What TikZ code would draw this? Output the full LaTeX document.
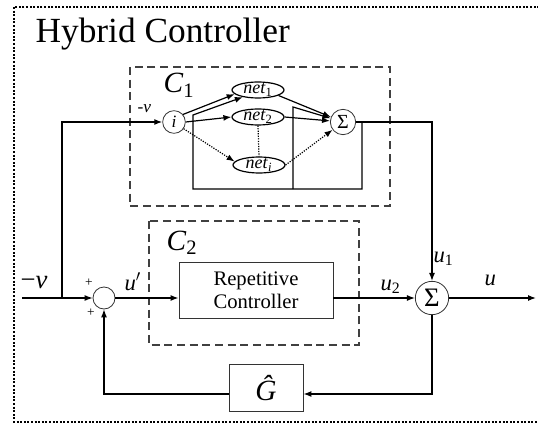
\documentclass[tikz,border=0pt]{standalone}
\usepackage{fontspec}
\setmainfont{Liberation Serif}
\usetikzlibrary{arrows.meta,shapes.geometric}

\begin{document}
\begin{tikzpicture}[x=0.75pt,y=-0.75pt,
    line width=0.9pt,
    >={Latex[length=6pt,width=4.5pt]},
    sumnode/.style={draw=black!80,circle,inner sep=0pt,line width=0.6pt},
    netnode/.style={draw,ellipse,inner sep=0pt,minimum width=39pt,minimum height=12pt,
        text height=6.5pt,text depth=1pt,font=\fontsize{13.5}{13.5}\selectfont},
    blockbox/.style={draw=black!80,rectangle,line width=0.7pt,align=center},
    groupbox/.style={draw=black!75,line width=0.9pt,dash pattern=on 6pt off 3.5pt},
    sig/.style={anchor=base west,inner sep=0pt,font=\fontsize{17}{17}\selectfont}]

    % Frame
    \useasboundingbox (0,0) rectangle (538,424);
    \clip (0,0) rectangle (538,424);
    \draw[line width=1.5pt,dash pattern=on 1.5pt off 1.2pt] (14,7) rectangle (560,422);
    \node[anchor=base west,inner sep=0pt,font=\fontsize{26.5}{30}\selectfont] (title) at (35,43) {Hybrid Controller};

    % C1 (neural part)
    \draw[groupbox] (130,67) rectangle (390,206);
    \node[anchor=base west,inner sep=0pt,font=\fontsize{22}{22}\selectfont] (c1) at (163,93) {\textit{C}\textsubscript{1}};
    \node[sumnode,minimum size=17pt,font=\fontsize{13}{13}\itshape] (in) at (174,122) {i};
    \node[netnode] (net1) at (258,90) {\textit{net}\textsubscript{1}};
    \node[netnode] (net2) at (258,117) {\textit{net}\textsubscript{2}};
    \node[netnode] (neti) at (259,165) {\textit{net}\textsubscript{\itshape i}};
    \node[sumnode,minimum size=19pt,font=\fontsize{15}{15}\selectfont] (sumA) at (343,122) {Σ};
    \node[anchor=base west,inner sep=0pt,font=\fontsize{13}{13}\selectfont] (vsmall) at (137,113) {-\textit{v}};

    \draw[->] (in.40) -- (net1.190);
    \draw[->] (in.east) -- (net2.west);
    \draw[->,densely dotted] (in.-35) -- (neti.172);
    \draw[densely dotted] (net2.south) -- (neti.north);
    \draw[->] (net1.-15) -- (sumA);
    \draw[->] (net2.east) -- (sumA);
    \draw[->,densely dotted] (neti.east) -- (sumA);
    \draw[->] (362,122) -- (362,189) -- (193,189) -- (193,115) -- (net1.205);
    \draw[->] (293,189) -- (293,107) -- (sumA);

    % Input and summing junction
    \coordinate (src) at (22,298);
    \coordinate (split) at (62,298);
    \node[sumnode,minimum size=16.5pt] (junc) at (104,298) {};
    \node[anchor=base west,inner sep=0pt,font=\fontsize{20}{20}\selectfont] (vbig) at (20,288) {−\textit{v}};
    \node[font=\fontsize{10}{10}\selectfont] (plusA) at (89,283) {+};
    \node[font=\fontsize{10}{10}\selectfont] (plusB) at (91,313) {+};
    \draw[->] (src) -- (junc);
    \draw[->] (split) -- (split |- in) -- (in);

    % C2 (repetitive part)
    \draw[groupbox] (149,221) rectangle (359,345);
    \node[anchor=base west,inner sep=0pt,font=\fontsize{22}{22}\selectfont] (c2) at (166,250) {\textit{C}\textsubscript{2}};
    \node[blockbox,minimum width=115.5pt,minimum height=42pt,
        font=\fontsize{15.5}{17}\selectfont] (rep) at (256,290) {Repetitive\\Controller};
    \draw[->] (junc) -- (junc -| rep.west);
    \node[sig] (uprime) at (124,290) {\textit{u}$'$};

    % Output sum
    \node[sumnode,minimum size=25pt,font=\fontsize{20}{20}\selectfont] (sumB) at (432,298) {Σ};
    \draw[->] (sumA) -- (sumA -| sumB) -- (sumB);
    \draw[->] (rep.east |- sumB) -- (sumB);
    \coordinate (out) at (536,298);
    \draw[->] (sumB) -- (out);
    \node[sig] (u2) at (380,290) {\textit{u}\textsubscript{2}};
    \node[sig] (u1) at (433,262) {\textit{u}\textsubscript{1}};
    \node[sig] (u) at (484,285) {\textit{u}};

    % Feedback through model
    \node[blockbox,minimum width=55.5pt,minimum height=35pt,font=\fontsize{22}{22}\selectfont] (ghat) at (266,388) {\textit{Ĝ}};
    \coordinate (fbR) at (432,394);
    \draw[->] (sumB) -- (fbR) -- (fbR -| ghat.east);
    \draw[->] (ghat.west |- fbR) -- (junc |- fbR) -- (junc);
\end{tikzpicture}
\end{document}
